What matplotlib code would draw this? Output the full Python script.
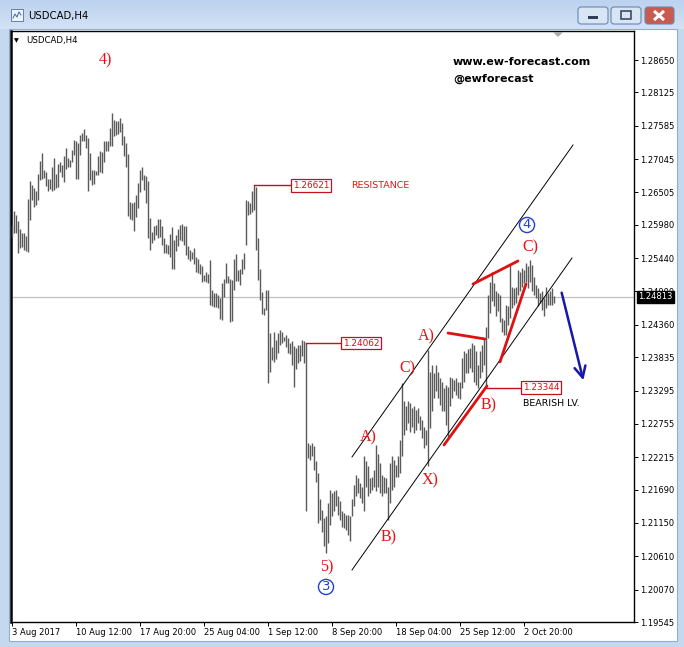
import matplotlib
matplotlib.use("Agg")
import matplotlib.pyplot as plt
import matplotlib.patches as mpatches
from matplotlib.colors import LinearSegmentedColormap
import numpy as np

plt.rcParams['font.family'] = ['DejaVu Sans']

# barras H4 USDCAD: maximos y minimos en unidades de 0.0001 (12598 -> 1.2598)
maximos = [
    12598, 12620, 12614, 12604, 12592, 12585, 12585, 12580, 12640, 12669,
    12662, 12657, 12653, 12680, 12701, 12714, 12687, 12684, 12673, 12672,
    12692, 12706, 12680, 12696, 12699, 12695, 12709, 12722, 12707, 12703,
    12719, 12735, 12734, 12731, 12744, 12746, 12753, 12744, 12738, 12714,
    12687, 12686, 12685, 12709, 12718, 12716, 12733, 12733, 12733, 12755,
    12779, 12768, 12766, 12766, 12771, 12763, 12742, 12730, 12713, 12635,
    12633, 12635, 12647, 12665, 12686, 12691, 12678, 12677, 12669, 12609,
    12587,
    12596, 12597, 12607, 12607, 12596, 12576, 12567, 12565, 12583, 12595,
    12573, 12581, 12592, 12597, 12599, 12596, 12596, 12563, 12557, 12554,
    12561, 12546, 12542, 12535, 12531, 12517, 12522, 12519, 12541, 12492,
    12487, 12488, 12484, 12480, 12504, 12511, 12536, 12515, 12511, 12509,
    12542, 12550, 12525, 12527, 12542, 12552, 12638, 12637, 12633, 12652,
    12662, 12660, 12576, 12527, 12489, 12464, 12492, 12492, 12422, 12400,
    12425, 12411, 12422, 12427, 12425, 12417, 12419, 12414,
    12406, 12409, 12401, 12398, 12404, 12404, 12412, 12409, 12406, 12245,
    12242, 12244, 12239, 12215, 12196, 12153, 12136, 12123, 12126, 12147,
    12169, 12163, 12166, 12169, 12158, 12150, 12134, 12131, 12128, 12128,
    12126, 12153, 12177, 12193, 12188, 12180, 12174, 12223, 12215, 12207,
    12188, 12190, 12201, 12242, 12226, 12212, 12193, 12190, 12188, 12174,
    12212, 12223, 12217, 12209, 12223, 12250, 12342, 12312, 12304, 12312,
    12309, 12301, 12304, 12298, 12301, 12288, 12282, 12271, 12266, 12395,
    12360, 12371, 12358, 12371, 12360, 12350, 12344, 12333, 12339, 12336,
    12352, 12350, 12347, 12350, 12344, 12344, 12382, 12393, 12390, 12396,
    12398, 12406, 12404, 12393, 12371, 12393, 12404, 12414, 12433, 12485,
    12506, 12522, 12504, 12490, 12487, 12485, 12447, 12444, 12468, 12466,
    12533, 12498, 12495, 12498, 12525, 12522, 12528, 12525, 12536, 12531,
    12541, 12533, 12514, 12501, 12495, 12487, 12490, 12479, 12498, 12487,
    12490, 12495, 12482,
]
minimos = [
    12579, 12584, 12584, 12553, 12560, 12562, 12558, 12556, 12554, 12605,
    12639, 12627, 12630, 12638, 12670, 12672, 12674, 12661, 12653, 12656,
    12652, 12654, 12657, 12660, 12683, 12675, 12668, 12689, 12692, 12691,
    12699, 12711, 12673, 12673, 12711, 12733, 12734, 12723, 12653, 12670,
    12662, 12664, 12679, 12679, 12684, 12682, 12700, 12718, 12718, 12726,
    12725, 12742, 12744, 12745, 12749, 12728, 12710, 12691, 12613, 12608,
    12605, 12588, 12611, 12626, 12651, 12670, 12655, 12634, 12576, 12558,
    12568,
    12573, 12581, 12576, 12578, 12565, 12553, 12552, 12551, 12546, 12526,
    12527, 12556, 12563, 12573, 12571, 12565, 12549, 12542, 12540, 12543,
    12535, 12521, 12520, 12519, 12506, 12507, 12506, 12504, 12468, 12466,
    12465, 12465, 12463, 12446, 12444, 12481, 12503, 12503, 12441, 12442,
    12492, 12507, 12507, 12500, 12518, 12526, 12565, 12614, 12616, 12619,
    12622, 12557, 12508, 12476, 12454, 12452, 12460, 12341, 12360, 12379,
    12376, 12381, 12390, 12403, 12406, 12409, 12400, 12391,
    12388, 12371, 12336, 12364, 12374, 12377, 12385, 12374, 12134, 12220,
    12217, 12223, 12201, 12182, 12115, 12120, 12101, 12077, 12066, 12082,
    12112, 12126, 12134, 12142, 12128, 12120, 12109, 12107, 12104, 12096,
    12085, 12126, 12142, 12158, 12163, 12155, 12147, 12134, 12174, 12158,
    12163, 12169, 12174, 12166, 12174, 12163, 12158, 12163, 12163, 12120,
    12147, 12169, 12174, 12190, 12190, 12196, 12223, 12258, 12266, 12277,
    12263, 12271, 12261, 12266, 12277, 12266, 12252, 12236, 12242, 12207,
    12269, 12296, 12317, 12328, 12317, 12306, 12296, 12296, 12274, 12255,
    12304, 12317, 12328, 12323, 12317, 12315, 12333, 12344, 12358, 12358,
    12366, 12360, 12344, 12339, 12333, 12350, 12360, 12371, 12334, 12414,
    12455, 12474, 12466, 12450, 12458, 12441, 12425, 12420, 12420, 12436,
    12447, 12463, 12468, 12471, 12485, 12490, 12498, 12504, 12506, 12495,
    12506, 12490, 12485, 12479, 12466, 12471, 12460, 12450, 12463, 12468,
    12468, 12468, 12471,
]

precioActual = 1.24813

etiquetasPrecio = ["1.28650", "1.28125", "1.27585", "1.27045", "1.26505", "1.25980",
                   "1.25440", "1.24900", "1.24360", "1.23835", "1.23295", "1.22755",
                   "1.22215", "1.21690", "1.21150", "1.20610", "1.20070", "1.19545"]
etiquetasFecha = ["3 Aug 2017", "10 Aug 12:00", "17 Aug 20:00", "25 Aug 04:00", "1 Sep 12:00",
                  "8 Sep 20:00", "18 Sep 04:00", "25 Sep 12:00", "2 Oct 20:00"]
barrasFecha = [0, 32, 64, 96, 128, 160, 192, 224, 256]

# niveles: (precio, barra inicio, barra fin de la linea)
niveles = [(1.26621, 121, 139.5), (1.24062, 147, 164.5), (1.23344, 237, 254.5)]

# canal (barra, precio)
canalSupX = [170, 280.5]
canalSupY = [1.22219, 1.27273]
canalInfX = [170, 280]
canalInfY = [1.20388, 1.25442]

# lineas rojas gruesas
lineasRojas = [
    ([230.5, 253], [1.25021, 1.25394]),
    ([218, 236.5], [1.24227, 1.24130]),
    ([244, 257], [1.23758, 1.25021]),
    ([216, 237.5], [1.22413, 1.23369]),
]

# etiquetas de ondas (texto, barra, precio)
ondas = [("4)", 46.5, 1.28650), ("A)", 178, 1.22543), ("B)", 188.5, 1.20923),
         ("C)", 197.5, 1.23660), ("A)", 207, 1.24179), ("X)", 209, 1.21846),
         ("B)", 238.5, 1.23061), ("C)", 259, 1.25621), ("5)", 157.5, 1.20437)]
circulos = [("3", 157, 1.20113), ("4", 257.5, 1.25977)]

flechaInicio = (274.5, 1.24924)
flechaFin = (286, 1.23417)

W, H = 684, 647


def fx(px):
    return px / W


def fy(py):
    return 1 - py / H


fig = plt.figure(figsize=(W / 100, H / 100), dpi=100)
fig.patch.set_facecolor('#c4d8f0')

# marco de la ventana
bg = fig.add_axes([0, 0, 1, 1])
cmapTitulo = LinearSegmentedColormap.from_list('t', ['#bcd2ee', '#d3e2f5'])
bg.imshow(np.linspace(0, 1, 30)[:, None], extent=(0, W, 29, 0), cmap=cmapTitulo, aspect='auto')
bg.add_patch(mpatches.Rectangle((9, 29), 668, 612, fc='white', ec='#93acd0', lw=0.8))
for x0, ancho, color in [(578, 30, '#d8e5f4'), (611, 30, '#d8e5f4'), (645, 29, '#c85a50')]:
    bg.add_patch(mpatches.FancyBboxPatch((x0, 7), ancho, 17, boxstyle='round,pad=0,rounding_size=3',
                                         fc=color, ec='#6f86a8', lw=0.8))
bg.add_patch(mpatches.Rectangle((588, 16), 10, 3, fc='#2f3d58', ec='none'))
bg.add_patch(mpatches.Rectangle((621, 11), 10, 8, fc='none', ec='#2f3d58', lw=1.1))
bg.plot([654, 664], [11, 20], color='white', lw=2.2, solid_capstyle='butt')
bg.plot([654, 664], [20, 11], color='white', lw=2.2, solid_capstyle='butt')
bg.add_patch(mpatches.Rectangle((11, 9), 12, 12, fc='#eef4fb', ec='#4f6f9f', lw=0.6))
bg.plot([13, 15, 17, 19, 21], [18, 14, 17, 12, 15], color='#3a66b0', lw=0.7)
bg.text(28, 16, "USDCAD,H4", fontsize=7.3, va='center', ha='left', color='black')
bg.set_xlim(0, W)
bg.set_ylim(H, 0)
bg.axis('off')

# grafico
ax = fig.add_axes([fx(11), fy(622), (634 - 11) / W, (622 - 31) / H])
ax.set_facecolor('white')
ax.set_xlim(-0.5, 311)
ax.set_ylim(1.19545, 1.29120)

barras = np.arange(len(maximos))
ax.vlines(barras, np.array(minimos) / 10000, np.array(maximos) / 10000,
          color='#5a5a5a', lw=1.0, zorder=3)
ax.axhline(precioActual, color='#c0c0c0', lw=0.9, zorder=1)

ax.yaxis.tick_right()
ax.set_yticks([float(t) for t in etiquetasPrecio])
ax.set_yticklabels(etiquetasPrecio)
ax.tick_params(axis='y', direction='out', length=3, width=0.7, pad=1.5, labelsize=6, colors='black')
ax.set_xticks(barrasFecha)
ax.set_xticklabels(etiquetasFecha)
for lab in ax.get_xticklabels():
    lab.set_ha('left')
ax.tick_params(axis='x', direction='out', length=3, width=0.7, pad=1.5, labelsize=6, colors='black')
for lado in ['top', 'bottom', 'right']:
    ax.spines[lado].set_linewidth(1.0)
    ax.spines[lado].set_color('black')
ax.spines['left'].set_linewidth(1.8)
ax.spines['left'].set_color('black')

# canal
ax.plot(canalSupX, canalSupY, color='black', lw=0.7, zorder=4)
ax.plot(canalInfX, canalInfY, color='black', lw=0.7, zorder=4)

# niveles
for precio, ini, fin in niveles:
    ax.plot([ini, fin], [precio, precio], color='#c0121a', lw=1.0, zorder=4)
    ax.text(fin + 1, precio, f"{precio:.5f}", fontsize=6.4, color='#d01010', va='center', ha='left',
            zorder=6, bbox=dict(boxstyle='square,pad=0.2', fc='white', ec='#c0121a', lw=0.9))
ax.text(169.5, niveles[0][0], "RESISTANCE", fontsize=6.8, color='#d41a1a', va='center', ha='left')
ax.text(255.5, 1.23093, "BEARISH LV.", fontsize=6.8, color='black', va='center', ha='left')

for xs, ys in lineasRojas:
    ax.plot(xs, ys, color='#e01010', lw=2.0, zorder=5, solid_capstyle='round')

for txt, xb, pr in ondas:
    ax.text(xb, pr, txt, fontsize=11.5, color='#e81010', ha='center', va='center',
            family='Liberation Serif', zorder=6)
for txt, xb, pr in circulos:
    ax.text(xb, pr, txt, fontsize=9.5, color='#2440d0', ha='center', va='center', zorder=6,
            bbox=dict(boxstyle='circle,pad=0.08', fc='white', ec='#2440d0', lw=1.0))

ax.annotate('', xy=flechaFin, xytext=flechaInicio,
            arrowprops=dict(arrowstyle='->,head_length=0.8,head_width=0.4', color='#1818a8', lw=1.8),
            zorder=6)

ax.text(220.5, 1.28618, "www.ew-forecast.com", fontsize=8, fontweight='bold', va='center', ha='left')
ax.text(220.5, 1.28342, "@ewforecast", fontsize=8, fontweight='bold', va='center', ha='left')

# rotulos internos del grafico
fig.text(fx(14), fy(41), "\u25bc", fontsize=4.5, va='center', ha='left')
fig.text(fx(26), fy(41), "USDCAD,H4", fontsize=6.2, va='center', ha='left')
fig.add_artist(mpatches.Polygon([[fx(553), fy(32)], [fx(563), fy(32)], [fx(558), fy(37)]],
                                closed=True, fc='#a8a8a8', ec='none', transform=fig.transFigure))
fig.text(fx(638), fy(297), f"{precioActual:.5f}", fontsize=6, color='white', va='center', ha='left',
         bbox=dict(boxstyle='square,pad=0.15', fc='black', ec='black'))

fig.savefig("out.png", dpi=100)
